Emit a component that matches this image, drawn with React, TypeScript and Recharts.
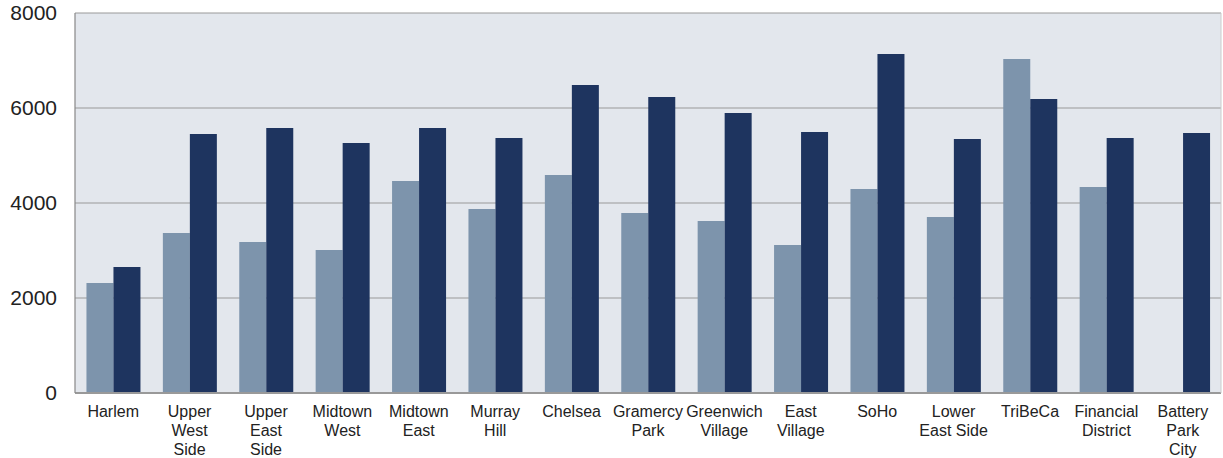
import React from 'react';
import { BarChart, Bar, XAxis, YAxis, CartesianGrid } from 'recharts';

const categories = ['Harlem', 'Upper West Side', 'Upper East Side', 'Midtown West', 'Midtown East', 'Murray Hill', 'Chelsea', 'Gramercy Park', 'Greenwich Village', 'East Village', 'SoHo', 'Lower East Side', 'TriBeCa', 'Financial District', 'Battery Park City'];
const tickLines = [['Harlem'], ['Upper', 'West', 'Side'], ['Upper', 'East', 'Side'], ['Midtown', 'West'], ['Midtown', 'East'], ['Murray', 'Hill'], ['Chelsea'], ['Gramercy', 'Park'], ['Greenwich', 'Village'], ['East', 'Village'], ['SoHo'], ['Lower', 'East Side'], ['TriBeCa'], ['Financial', 'District'], ['Battery', 'Park', 'City']];
const seriesA = [2316, 3368, 3179, 3011, 4463, 3874, 4589, 3789, 3621, 3116, 4295, 3705, 7032, 4337, null];
const seriesB = [2653, 5453, 5579, 5263, 5579, 5368, 6484, 6232, 5895, 5495, 7137, 5347, 6189, 5368, 5474];
const yTicks = [0, 2000, 4000, 6000, 8000];

const data = categories.map((c, i) => ({ name: c, a: seriesA[i], b: seriesB[i] }));

const CatTick = (props: any) => {
  const { x, y, payload } = props;
  const lines = tickLines[payload.index] || [String(payload.value)];
  return (
    <text x={x} y={y} textAnchor="middle" fill="#222" fontSize={16} fontFamily="'Liberation Sans', Arial, sans-serif">
      {lines.map((l: string, i: number) => (
        <tspan key={i} x={x} dy={i === 0 ? 24 : 19}>{l}</tspan>
      ))}
    </text>
  );
};

export default function App() {
  return (
    <div style={{ position: 'absolute', left: 0, top: 0 }}>
      <BarChart width={1223} height={458} data={data} margin={{ top: 13, right: 1, bottom: 0, left: 0 }} barGap={0} barCategoryGap="15%">
        <CartesianGrid vertical={false} fill="#E3E7ED" stroke="#9A9A9A" strokeWidth={1.2} />
        <XAxis dataKey="name" height={65} tick={<CatTick />} tickLine={false} tickSize={0} tickMargin={0} axisLine={{ stroke: '#999', strokeWidth: 2 }} interval={0} />
        <YAxis domain={[0, 8000]} ticks={yTicks} width={75} tickLine={false} tickSize={0} tickMargin={18} axisLine={{ stroke: '#888', strokeWidth: 1.2 }} tick={{ fill: '#222', fontSize: 21, fontFamily: "'Liberation Sans', Arial, sans-serif" }} />
        <YAxis yAxisId="r" orientation="right" width={1} tick={false} tickLine={false} axisLine={{ stroke: '#ccc' }} />
        <Bar dataKey="a" fill="#7D94AC" isAnimationActive={false} />
        <Bar dataKey="b" fill="#1E345F" isAnimationActive={false} />
      </BarChart>
    </div>
  );
}
